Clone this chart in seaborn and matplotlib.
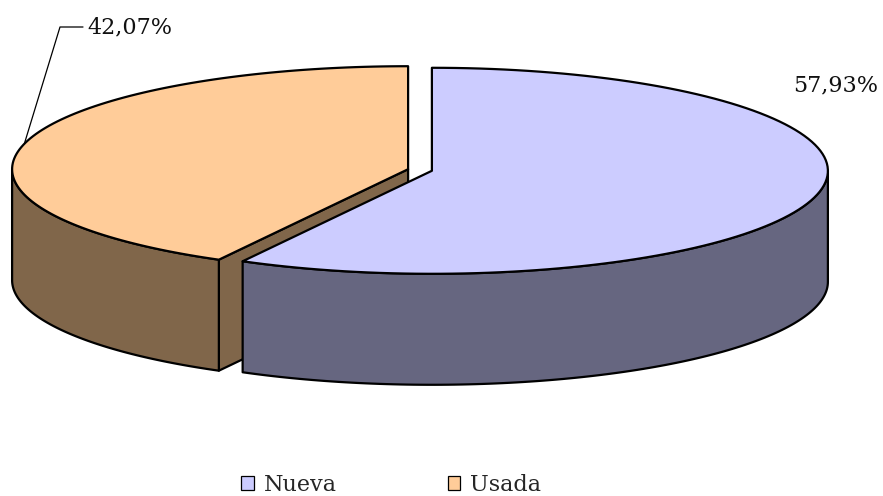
import numpy as np
import matplotlib
matplotlib.use("Agg")
import matplotlib.pyplot as plt
import seaborn as sns
from matplotlib.patches import Polygon, Patch

# data
categories = ["Nueva", "Usada"]
values = [57.93, 42.07]
pct_labels = ["57,93%", "42,07%"]
top_colors = ["#CCCCFF", "#FFCC99"]
side_colors = ["#666680", "#80664A"]

# pie geometry in pixel space
cx, cy = 420, 170
rx, ry = 396, 103
depth = 111
explode = 0.031

sns.set_theme(style="white")
plt.rcParams["font.family"] = ["DejaVu Serif"]

fig = plt.figure(figsize=(8.83, 4.96), dpi=100)
ax = fig.add_axes([0, 0, 1, 1])
ax.set_xlim(0, 883)
ax.set_ylim(496, 0)
ax.axis("off")


def pt(x0, y0, t, dz=0):
    r = np.radians(t)
    return x0 + rx * np.cos(r), y0 - ry * np.sin(r) + dz


def arc(x0, y0, a, b, dz=0, n=120):
    ts = np.linspace(a, b, n)
    return [pt(x0, y0, t, dz) for t in ts]


edge = dict(edgecolor="black", linewidth=1.6, joinstyle="round")

fracs = np.array(values) / sum(values)
starts = 90 - 360 * np.concatenate([[0], np.cumsum(fracs)[:-1]])
ends = starts - 360 * fracs

slices = []
for i in range(len(values)):
    lo, hi = ends[i], starts[i]
    mid = (lo + hi) / 2
    x0 = cx + explode * rx * np.cos(np.radians(mid))
    y0 = cy - explode * ry * np.sin(np.radians(mid))
    slices.append((i, lo, hi, mid, x0, y0))

# back slice first
for i, lo, hi, mid, x0, y0 in reversed(slices):
    # radial faces
    for t, visible in [(hi, np.cos(np.radians(hi)) < -1e-6),
                       (lo, np.cos(np.radians(lo)) > 1e-6)]:
        if visible:
            p = pt(x0, y0, t)
            face = [(x0, y0), p, (p[0], p[1] + depth), (x0, y0 + depth)]
            ax.add_patch(Polygon(face, facecolor=side_colors[i], **edge))
    # outer wall, front part only
    for k in (-1, 0, 1):
        a = max(lo, k * 360 - 180)
        b = min(hi, k * 360)
        if a < b:
            top = arc(x0, y0, a, b)
            bot = arc(x0, y0, b, a, depth)
            ax.add_patch(Polygon(top + bot, facecolor=side_colors[i], **edge))
    # top face
    top = [(x0, y0)] + arc(x0, y0, hi, lo)
    ax.add_patch(Polygon(top, facecolor=top_colors[i], **edge))

# labels
i, lo, hi, mid, x0, y0 = slices[1]
ex, ey = pt(x0, y0, mid)
ax.plot([ex, 60, 83], [ey, 27, 27], color="black", lw=0.9)
ax.text(130, 27, pct_labels[1], ha="center", va="center", fontsize=16, color="#111111")
ax.text(836, 85, pct_labels[0], ha="center", va="center", fontsize=16, color="#111111")

handles = [Patch(facecolor=top_colors[j], edgecolor="black", linewidth=0.9) for j in range(2)]
fig.legend(handles, categories, loc="lower center", ncol=2, frameon=False,
           bbox_to_anchor=(0.443, -0.04), handlelength=0.55, handleheight=0.55,
           handletextpad=0.45, columnspacing=5.0, fontsize=16)

fig.savefig("out.png", dpi=100)
